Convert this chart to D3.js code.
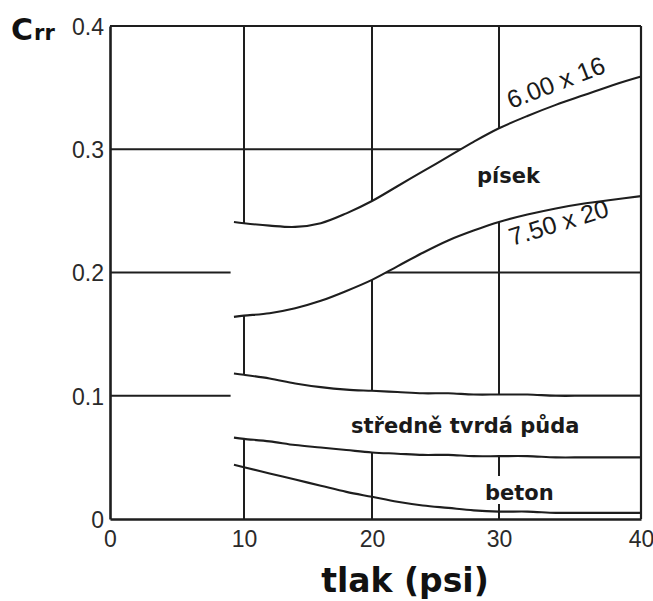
<!DOCTYPE html>
<html><head><meta charset="utf-8">
<script src="https://cdn.jsdelivr.net/npm/d3@7"></script>
<style>
body{margin:0;background:#fff;}
svg{display:block;}
</style></head>
<body>
<svg id="chart" width="653" height="601"></svg>
<script>
// ---- data ----
const pressure = [9.25, 10, 12, 14, 16, 18, 20, 22, 24, 26, 28, 30, 32, 34, 36, 38, 40];
const tire600x16 = [0.241, 0.240, 0.238, 0.237, 0.240, 0.248, 0.258, 0.270, 0.282, 0.294, 0.306, 0.317, 0.327, 0.336, 0.344, 0.352, 0.359];
const tire750x20 = [0.164, 0.165, 0.167, 0.171, 0.177, 0.185, 0.194, 0.205, 0.216, 0.226, 0.234, 0.241, 0.247, 0.252, 0.256, 0.259, 0.262];
const soilUpper  = [0.118, 0.117, 0.114, 0.110, 0.107, 0.105, 0.104, 0.103, 0.102, 0.102, 0.101, 0.101, 0.101, 0.100, 0.100, 0.100, 0.100];
const soilLower  = [0.066, 0.065, 0.063, 0.060, 0.058, 0.056, 0.054, 0.053, 0.052, 0.052, 0.051, 0.051, 0.051, 0.050, 0.050, 0.050, 0.050];
const concrete   = [0.044, 0.042, 0.037, 0.032, 0.027, 0.022, 0.018, 0.014, 0.011, 0.009, 0.007, 0.006, 0.006, 0.005, 0.005, 0.005, 0.005];
const xTicks = [0, 10, 20, 30, 40];
const yTicks = [0, 0.1, 0.2, 0.3, 0.4];
const yTickLabels = ["0", "0.1", "0.2", "0.3", "0.4"];
const gapStart = 9.0;

const svg = d3.select("#chart");
const ink = "#1e1e1e";

// scanned chart grid is slightly uneven; piecewise scale follows the drawn grid
const x = d3.scaleLinear().domain([0, 10, 20, 30, 40]).range([110, 244, 372, 499, 641]);
const y = d3.scaleLinear().domain([0, 0.4]).range([519, 26]);
const smooth = d3.curveCatmullRom.alpha(0.5);

const gGrid = svg.append("g");
gGrid.selectAll("line.v").data(xTicks.slice(1, 4)).enter().append("line")
  .attr("x1", d => x(d)).attr("x2", d => x(d)).attr("y1", y(0.4)).attr("y2", y(0))
  .attr("stroke", ink).attr("stroke-width", 2);
gGrid.selectAll("line.h").data(yTicks.slice(1, 4)).enter().append("line")
  .attr("x1", x(0)).attr("x2", x(40)).attr("y1", d => y(d)).attr("y2", d => y(d))
  .attr("stroke", ink).attr("stroke-width", 2);

// white bands covering grid
function band(top, bot) {
  const pts = pressure.map((p, i) => ({x: p, t: top[i], b: bot[i]}));
  pts.unshift({x: gapStart, t: top[0], b: bot[0]});
  return d3.area().x(d => x(d.x)).y0(d => y(d.b)).y1(d => y(d.t)).curve(smooth)(pts);
}
svg.append("path").attr("d", band(tire600x16, tire750x20)).attr("fill", "#fff");
svg.append("path").attr("d", band(soilUpper, soilLower)).attr("fill", "#fff");

// frame
svg.append("line").attr("x1", x(0)).attr("x2", x(40)).attr("y1", y(0.4)).attr("y2", y(0.4)).attr("stroke", ink).attr("stroke-width", 2.2);
svg.append("line").attr("x1", x(40)).attr("x2", x(40)).attr("y1", y(0.4)).attr("y2", y(0)).attr("stroke", ink).attr("stroke-width", 2.2);

// beton label background
svg.append("rect").attr("x", 480).attr("y", 476).attr("width", 80).attr("height", 28).attr("fill", "#fff");

// curves
const line = d3.line().x((d, i) => x(pressure[i])).y(d => y(d)).curve(smooth);
[tire600x16, tire750x20, soilUpper, soilLower, concrete].forEach(s => {
  svg.append("path").attr("d", line(s)).attr("fill", "none").attr("stroke", ink).attr("stroke-width", 2.1);
});

// axes
const xAxis = d3.axisBottom(x).tickValues(xTicks).tickSize(0).tickFormat(d3.format("d"));
const gx = svg.append("g").attr("transform", `translate(0,${y(0)})`).call(xAxis);
gx.select(".domain").attr("stroke", ink).attr("stroke-width", 2.6);
gx.selectAll("text").attr("dy", null).attr("y", 28)
  .style("font-family", "'Liberation Sans', Arial, sans-serif").style("font-size", "23px").attr("fill", "#2a2a2a");

const yAxis = d3.axisLeft(y).tickValues(yTicks).tickSize(0).tickFormat((d, i) => yTickLabels[i]);
const gy = svg.append("g").attr("transform", `translate(${x(0)},0)`).call(yAxis);
gy.select(".domain").attr("stroke", ink).attr("stroke-width", 2.6);
gy.selectAll("text").attr("x", -6).attr("dy", "0.36em")
  .style("font-family", "'Liberation Sans', Arial, sans-serif").style("font-size", "23px").attr("fill", "#2a2a2a");

// titles
const crr = svg.append("text").attr("x", 11).attr("y", 40)
  .style("font-family", "'DejaVu Sans', sans-serif").style("font-weight", "bold").attr("fill", "#111");
crr.append("tspan").text("C").style("font-size", "30px");
crr.append("tspan").text("rr").style("font-size", "21px").attr("dx", 1);

svg.append("text").attr("x", 405).attr("y", 592).attr("text-anchor", "middle")
  .style("font-family", "'DejaVu Sans', sans-serif").style("font-weight", "bold").style("font-size", "33px")
  .attr("fill", "#111").text("tlak (psi)");

// curve labels
const lbl = (t, px, py, size, rot, weight, family) => svg.append("text")
  .attr("transform", `translate(${px},${py}) rotate(${rot})`)
  .style("font-family", family).style("font-weight", weight).style("font-size", size + "px")
  .attr("fill", "#1a1a1a").text(t);
lbl("6.00 x 16", 511, 109, 25, -21, "normal", "'Liberation Sans', Arial, sans-serif");
lbl("7.50 x 20", 512, 246, 25, -17, "normal", "'Liberation Sans', Arial, sans-serif");
lbl("písek", 477, 183, 21, 0, "bold", "'DejaVu Sans', sans-serif");
lbl("středně tvrdá půda", 351, 433, 21, 0, "bold", "'DejaVu Sans', sans-serif");
lbl("beton", 485, 500, 21, 0, "bold", "'DejaVu Sans', sans-serif");
</script>
</body></html>
